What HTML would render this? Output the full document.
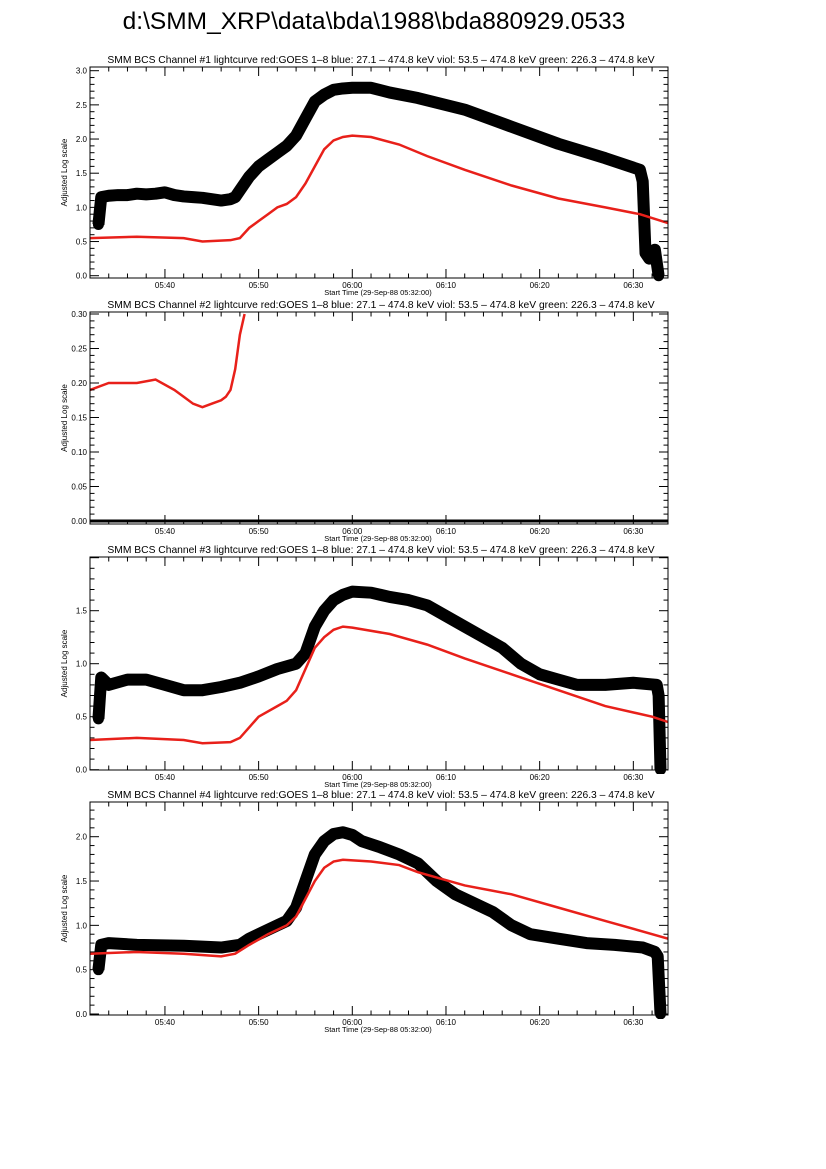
<!DOCTYPE html>
<html><head><meta charset="utf-8"><style>
body{margin:0;background:#fff;}
svg{display:block;font-family:"Liberation Sans",sans-serif;}
</style></head><body>
<svg id="chart" width="826" height="1169" viewBox="0 0 826 1169">
<text x="374" y="29" font-size="24.5" text-anchor="middle">d:\SMM_XRP\data\bda\1988\bda880929.0533</text>
</svg>
<script>
// time in minutes after 05:32:00
const xTickLabels = ["05:40","05:50","06:00","06:10","06:20","06:30"];
const xTickTimes = [8,18,28,38,48,58];
const panelTitles = [1,2,3,4];
// Channel 1
const blackT1 = [0.9,1.2,2,3,4,5,6,7,8,9,10,11,12,13,14,15,15.5,16,17,18,19,20,21,22,23,24,25,26,27,28,30,32,35,40,45,50,55,58.7,59.0,59.3,59.7,60.3,60.7];
const blackV1 = [0.75,1.15,1.17,1.18,1.18,1.2,1.19,1.2,1.22,1.18,1.16,1.15,1.14,1.12,1.1,1.12,1.15,1.25,1.45,1.6,1.7,1.8,1.9,2.05,2.3,2.55,2.65,2.72,2.74,2.75,2.75,2.68,2.6,2.43,2.18,1.93,1.72,1.55,1.38,0.33,0.25,0.38,0.0];
const redT1 = [0,5,10,12,15,16,17,18,19,20,21,22,23,24,25,26,27,28,30,33,36,40,45,50,55,58.7,61.7];
const redV1 = [0.55,0.57,0.55,0.5,0.52,0.55,0.7,0.8,0.9,1.0,1.05,1.15,1.35,1.6,1.85,1.98,2.03,2.05,2.03,1.92,1.75,1.55,1.32,1.13,1.0,0.9,0.77];
// Channel 2
const blackT2 = [0,61.7];
const blackV2 = [0,0];
const redT2 = [0,2,5,7,9,10,11,12,13,14,14.5,15,15.5,16,16.5];
const redV2 = [0.19,0.2,0.2,0.205,0.19,0.18,0.17,0.165,0.17,0.175,0.18,0.19,0.22,0.27,0.30];
// Channel 3
const blackT3 = [0.9,1.2,2,4,6,8,10,12,14,15,16,18,20,22,23,24,25,26,27,28,30,32,34,36,38,40,42,44,46,48,50,52,55,58,60.5,60.7,60.9];
const blackV3 = [0.48,0.87,0.8,0.85,0.85,0.8,0.75,0.75,0.78,0.8,0.82,0.88,0.95,1.0,1.1,1.35,1.5,1.6,1.65,1.68,1.67,1.63,1.6,1.55,1.45,1.35,1.25,1.15,1.0,0.9,0.85,0.8,0.8,0.82,0.8,0.7,0.0];
const redT3 = [0,5,10,12,15,16,17,18,20,21,22,23,24,25,26,27,28,32,36,40,45,50,55,60,61.7];
const redV3 = [0.28,0.3,0.28,0.25,0.26,0.3,0.4,0.5,0.6,0.65,0.75,0.95,1.15,1.25,1.32,1.35,1.34,1.28,1.18,1.05,0.9,0.75,0.6,0.5,0.45];
// Channel 4
const blackT4 = [0.9,1.2,2,5,10,14,16,17,18,20,21,22,23,24,25,26,27,28,29,31,33,35,37,39,41,43,45,47,50,53,56,59,60.3,60.6,60.9];
const blackV4 = [0.5,0.78,0.8,0.78,0.77,0.75,0.78,0.85,0.9,1.0,1.05,1.2,1.5,1.8,1.95,2.03,2.05,2.02,1.95,1.88,1.8,1.7,1.5,1.35,1.25,1.15,1.0,0.9,0.85,0.8,0.78,0.75,0.7,0.65,0.0];
const redT4 = [0,5,10,14,15.5,17,19,21,22,23,24,25,26,27,30,33,35,40,45,50,55,61.7];
const redV4 = [0.68,0.7,0.68,0.65,0.68,0.78,0.9,1.0,1.1,1.3,1.5,1.65,1.72,1.74,1.72,1.68,1.6,1.45,1.35,1.2,1.05,0.85];
const yLabels1 = ["0.0","0.5","1.0","1.5","2.0","2.5","3.0"];
const yLabels2 = ["0.00","0.05","0.10","0.15","0.20","0.25","0.30"];
const yLabels3 = ["0.0","0.5","1.0","1.5"];
const yLabels4 = ["0.0","0.5","1.0","1.5","2.0"];

const NS="http://www.w3.org/2000/svg";
const svg=document.getElementById('chart');
const X0=90,X1=668,TMAX=61.7;
function sx(t){return X0+(t/TMAX)*(X1-X0);}
function mk(tag,attrs,parent){const e=document.createElementNS(NS,tag);for(const k in attrs)e.setAttribute(k,attrs[k]);(parent||svg).appendChild(e);return e;}
const panels=[
 {top:67,bot:278,y0:275.7,ymaxv:3.0,ymaxpx:70.7,labels:yLabels1,step:0.5,minor:0.1,bt:blackT1,bv:blackV1,rt:redT1,rv:redV1},
 {top:312,bot:524,y0:521,ymaxv:0.30,ymaxpx:314,labels:yLabels2,step:0.05,minor:0.01,bt:blackT2,bv:blackV2,rt:redT2,rv:redV2},
 {top:557,bot:770,y0:769.7,ymaxv:1.5,ymaxpx:610.7,labels:yLabels3,step:0.5,minor:0.1,bt:blackT3,bv:blackV3,rt:redT3,rv:redV3},
 {top:802,bot:1015,y0:1014,ymaxv:2.0,ymaxpx:836.7,labels:yLabels4,step:0.5,minor:0.1,bt:blackT4,bv:blackV4,rt:redT4,rv:redV4}
];
panels.forEach((p,i)=>{
 const g=mk('g',{});
 
 
 const k=(p.y0-p.ymaxpx)/p.ymaxv;
 const sy=v=>p.y0-v*k;
 const clip=mk('clipPath',{id:'c'+i},g);
 mk('rect',{x:X0,y:p.top-4,width:X1-X0+2,height:p.bot-p.top+8},clip);
 const t=mk('text',{x:381,y:p.top-4,'font-size':10.3,'text-anchor':'middle','xml:space':'preserve'},g);
 t.textContent='SMM BCS Channel #'+panelTitles[i]+' lightcurve  red:GOES 1\u20138  blue: 27.1 \u2013 474.8 keV  viol: 53.5 \u2013 474.8 keV  green: 226.3 \u2013 474.8 keV';
 
 
 const dg=mk('g',{'clip-path':'url(#c'+i+')'},g);
 const bpts=p.bt.map((tt,j)=>sx(tt)+','+sy(p.bv[j])).join(' ');
 const bl=mk('polyline',{points:bpts,fill:'none',stroke:'#000','stroke-width':i==1?3:12,'stroke-linejoin':'round'},dg);
 
 
 if(i!=1){
  mk('polyline',{points:bpts,fill:'none',stroke:'#000','stroke-width':1.5},dg);
  p.bt.forEach((tt,j)=>{const c=mk('circle',{cx:sx(tt),cy:sy(p.bv[j]),r:5.5,fill:'#000'},dg);
   
   });
 }
 const rl=mk('polyline',{points:p.rt.map((tt,j)=>sx(tt)+','+sy(p.rv[j])).join(' '),fill:'none',stroke:'#e8201a','stroke-width':2.5},dg);
 
 
 mk('rect',{x:X0,y:p.top,width:X1-X0,height:p.bot-p.top,fill:'none',stroke:'#000','stroke-width':1},g);
 for(let m=0;m<=TMAX;m+=2){const x=sx(m);const L=(m-8)%10==0?9:4.5;
  mk('line',{x1:x,x2:x,y1:p.bot,y2:p.bot-L,stroke:'#000'},g);
  mk('line',{x1:x,x2:x,y1:p.top,y2:p.top+L,stroke:'#000'},g);}
 xTickLabels.forEach((l,j)=>{const tx=mk('text',{x:sx(xTickTimes[j]),y:p.bot+10,'font-size':8,'text-anchor':'middle'},g);tx.textContent=l;
  
  });
 const xt=mk('text',{x:378,y:p.bot+17,'font-size':7.5,'text-anchor':'middle'},g);
 xt.textContent='Start Time (29-Sep-88 05:32:00)';
 
 
 const nMinor=Math.floor((p.y0-p.top)/(p.minor*k)+1e-6);
 for(let j=0;j<=nMinor;j++){const y=p.y0-j*p.minor*k;const L=(j%5==0)?9:4.5;
  mk('line',{x1:X0,x2:X0+L,y1:y,y2:y,stroke:'#000'},g);
  mk('line',{x1:X1,x2:X1-L,y1:y,y2:y,stroke:'#000'},g);}
 p.labels.forEach((l,j)=>{const ty=mk('text',{x:X0-3,y:p.y0-j*p.step*k+3,'font-size':8,'text-anchor':'end'},g);ty.textContent=l;
  
  });
 const cy=(p.top+p.bot)/2;
 const yt=mk('text',{x:67,y:cy,'font-size':8,'text-anchor':'middle',transform:'rotate(-90 67 '+cy+')'},g);
 yt.textContent='Adjusted Log scale';
 
 
});
</script>
</body></html>
